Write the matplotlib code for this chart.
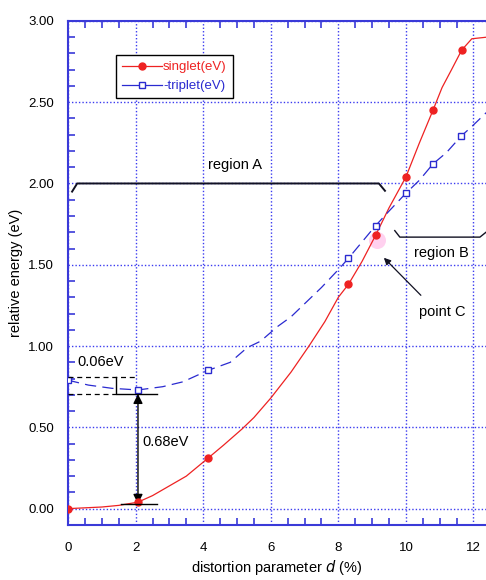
import matplotlib
matplotlib.use("Agg")
import matplotlib.pyplot as plt
from matplotlib.lines import Line2D
from matplotlib.ticker import MultipleLocator, FormatStrFormatter

# marker points (distortion %, energy eV)
singlet_d = [0.0, 2.07, 4.14, 8.3, 9.1, 10.0, 10.8, 11.65]
singlet_e = [0.00, 0.04, 0.31, 1.38, 1.68, 2.04, 2.45, 2.82]
triplet_d = [0.0, 2.07, 4.14, 8.3, 9.1, 10.0, 10.8, 11.63]
triplet_e = [0.79, 0.73, 0.85, 1.54, 1.74, 1.94, 2.12, 2.29]

# curves
s_curve_d = [0, 0.5, 1.0, 1.5, 2.07, 2.5, 3.0, 3.5, 4.14, 4.6, 5.15, 5.5, 6.0, 6.6,
             7.13, 7.6, 8.0, 8.3, 8.7, 9.1, 9.5, 10.0, 10.4, 10.8, 11.07, 11.35,
             11.65, 11.95, 12.4]
s_curve_e = [0, 0.005, 0.01, 0.02, 0.04, 0.08, 0.14, 0.2, 0.31, 0.39, 0.49, 0.56,
             0.68, 0.84, 1.0, 1.15, 1.30, 1.38, 1.52, 1.68, 1.85, 2.04, 2.25, 2.45,
             2.59, 2.70, 2.82, 2.89, 2.90]
t_curve_d = [0, 0.6, 1.3, 2.07, 2.8, 3.4, 4.14, 4.8, 5.3, 5.7, 6.2, 6.6, 7.15, 7.5,
             8.0, 8.3, 8.7, 9.1, 9.5, 10.0, 10.4, 10.8, 11.2, 11.63, 12.0, 12.4]
t_curve_e = [0.79, 0.76, 0.74, 0.73, 0.75, 0.78, 0.85, 0.90, 0.99, 1.03, 1.12, 1.18,
             1.29, 1.36, 1.47, 1.54, 1.64, 1.74, 1.83, 1.94, 2.02, 2.12, 2.19, 2.29,
             2.36, 2.44]

labels = ["singlet(eV)", "-triplet(eV)"]

plt.rcParams["font.family"] = ["Liberation Sans", "DejaVu Sans"]
spine_blue = "#3a3ad8"
red = "#ee2222"
blue = "#2a2ad0"

fig = plt.figure(figsize=(4.86, 5.8), dpi=100)
ax = fig.add_axes([0.14, 0.095, 0.86, 0.869])

ax.plot(s_curve_d, s_curve_e, color=red, lw=0.9, zorder=3)
ax.plot(singlet_d, singlet_e, "o", color=red, ms=5, zorder=4)
ax.plot(t_curve_d, t_curve_e, color=blue, lw=0.9, dashes=(9, 5), zorder=3)
ax.plot(triplet_d, triplet_e, "s", mfc="white", mec=blue, mew=1.0, ms=5, zorder=4)

ax.set_xlim(0, 12.37)
ax.set_ylim(-0.1, 3.0)
ax.xaxis.set_major_locator(MultipleLocator(2))
ax.xaxis.set_minor_locator(MultipleLocator(0.5))
ax.yaxis.set_major_locator(MultipleLocator(0.5))
ax.yaxis.set_minor_locator(MultipleLocator(0.1))
ax.yaxis.set_major_formatter(FormatStrFormatter("%.2f"))
ax.grid(True, which="major", color="#3c3cf0", ls=(0, (1, 1.5)), lw=1.0)

for side in ["left", "bottom", "top"]:
    ax.spines[side].set_color(spine_blue)
    ax.spines[side].set_linewidth(1.5)
ax.spines["right"].set_visible(False)
ax.tick_params(which="both", direction="in", color=spine_blue, width=1.2,
               top=True, right=False, labelsize=9.5, labelcolor="black")
ax.tick_params(axis="x", pad=12)
ax.tick_params(axis="y", pad=10)
ax.tick_params(which="major", length=0)
ax.tick_params(which="minor", length=5)

ax.set_xlabel("distortion parameter $d$ (%)", fontsize=10.5, labelpad=3)
ax.set_ylabel("relative energy (eV)", fontsize=10.5, labelpad=4)

# legend
handles = [Line2D([], [], color=red, lw=0.9, marker="o", ms=5),
           Line2D([], [], color=blue, lw=0.9, marker="s", mfc="white", mec=blue, ms=4)]
leg = ax.legend(handles, labels, loc="upper left", bbox_to_anchor=(0.115, 0.932),
                fancybox=False, edgecolor="black", framealpha=1, fontsize=9.5,
                handlelength=3.0, handletextpad=0.1, borderpad=0.45,
                labelspacing=0.5, borderaxespad=0)
leg.get_frame().set_linewidth(1.0)
leg.get_texts()[0].set_color(red)
leg.get_texts()[1].set_color(blue)

k = "#111122"
# region A bracket
ax.plot([0.12, 0.27, 9.2, 9.38], [1.95, 2.0, 2.0, 1.955], color=k, lw=1.4, zorder=5)
ax.text(4.94, 2.07, "region A", fontsize=10.5, ha="center", va="bottom")
# region B bracket
ax.plot([9.67, 9.82, 12.19, 12.37], [1.71, 1.67, 1.67, 1.70], color=k, lw=1.0, zorder=5)
ax.text(11.05, 1.57, "region B", fontsize=10.5, ha="center", va="center")
# point C
ax.scatter([9.15], [1.65], s=150, color="#ffccee", alpha=0.9, zorder=2, lw=0)
ax.annotate("", xy=(9.29, 1.555), xytext=(10.5, 1.30),
            arrowprops=dict(arrowstyle="-|>", color=k, lw=0.9, mutation_scale=10))
ax.text(11.07, 1.21, "point C", fontsize=10.5, ha="center", va="center")

# 0.06 eV gap
ax.plot([0, 2.0], [0.81, 0.81], color="black", lw=0.9, ls=(0, (4, 3)), zorder=5)
ax.plot([0, 1.42], [0.705, 0.705], color="black", lw=0.9, ls=(0, (4, 3)), zorder=5)
ax.plot([1.42, 1.42, 2.63], [0.81, 0.705, 0.705], color="black", lw=1.0, zorder=5)
ax.text(0.28, 0.9, "0.06eV", fontsize=10.5, ha="left", va="center")

# 0.68 eV gap
ax.plot([1.57, 2.63], [0.03, 0.03], color="black", lw=1.0, zorder=5)
ax.annotate("", xy=(2.07, 0.705), xytext=(2.07, 0.03),
            arrowprops=dict(arrowstyle="<|-|>", color="black", lw=1.0,
                            mutation_scale=14, shrinkA=0, shrinkB=0))
ax.text(2.2, 0.41, "0.68eV", fontsize=10.5, ha="left", va="center")

fig.savefig("out.png", dpi=100)
